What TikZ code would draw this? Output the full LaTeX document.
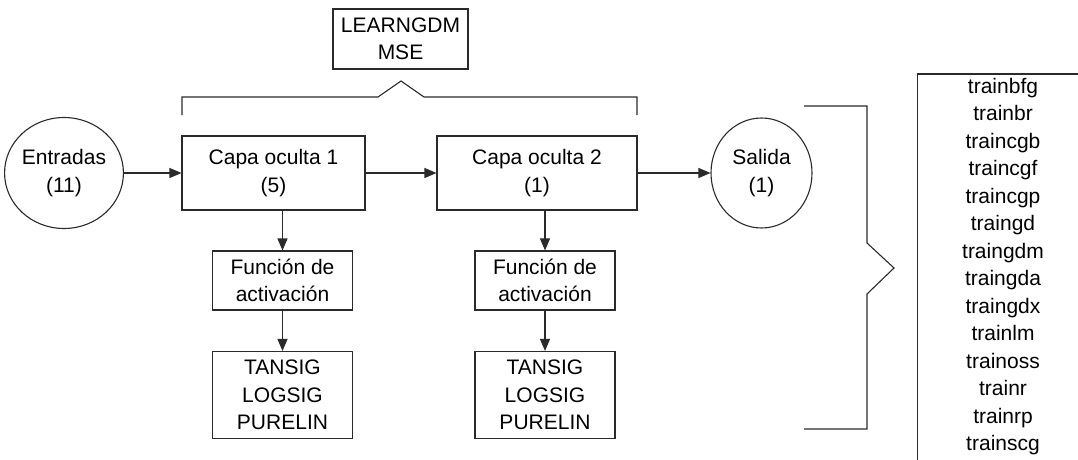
\documentclass[tikz,border=0pt]{standalone}
\usepackage{fontspec}
\setmainfont{Liberation Sans}
\usetikzlibrary{positioning,arrows.meta,calc,shapes.geometric}
\definecolor{lineInk}{HTML}{2A2A2A}

\begin{document}
\begin{tikzpicture}[x=1pt, y=1pt, >={Triangle[length=12pt, width=10pt]},
      font=\fontsize{21}{27.5}\selectfont,
      line/.style={draw=lineInk, line width=1.1pt},
      box/.style={line, rectangle, align=center, inner sep=2pt},
      layer/.style={box, minimum height=74pt},
      act/.style={box, minimum width=140pt},
      unit/.style={line, ellipse, minimum width=102pt, minimum height=111pt, inner sep=0pt, align=center},
      listtext/.style={align=center, inner sep=0pt, minimum width=170pt, anchor=north}]
    \clip (0,0) rectangle (1078,-460);
    \node[unit] (ent) at (64,-173) {Entradas\\(11)};
    \node[layer, minimum width=183pt] (cap1) at (273.5,-173) {Capa oculta 1\\(5)};
    \node[layer, minimum width=200pt] (cap2) at (537,-173) {Capa oculta 2\\(1)};
    \node[unit, minimum width=101pt, minimum height=110pt] (sal) at (761.5,-173) {Salida\\(1)};
    \node[box, minimum width=135pt, minimum height=60pt] (lrn) at (400.5,-39) {LEARNGDM\\MSE};
    \node[act, minimum height=59pt] (fa1) at (282.5,-280.5) {Función de\\activación};
    \node[act, minimum height=59pt] (fa2) at (545,-280.5) {Función de\\activación};
    \node[act, minimum height=87pt] (ts1) at (282.5,-395) {TANSIG\\LOGSIG\\PURELIN};
    \node[act, minimum height=87pt] (ts2) at (545,-395) {TANSIG\\LOGSIG\\PURELIN};
    \node[listtext] (lst) at (1003,-78) {trainbfg\\trainbr\\traincgb\\traincgf\\traincgp\\traingd\\traingdm\\traingda\\traingdx\\trainlm\\trainoss\\trainr\\trainrp\\trainscg};
    % main row
    \draw[line, ->] (ent) -- (cap1);
    \draw[line, ->] (cap1) -- (cap2);
    \draw[line, ->] (cap2) -- (sal);
    \foreach \c in {1,2} {
      \draw[line, ->] (cap\c.south -| fa\c.north) -- (fa\c);
      \draw[line, ->] (fa\c) -- (ts\c);
    }
    % brackets
    \draw[line] (182,-115) -- (182,-97) -- (378,-97) -- (401,-81) -- (424,-97) -- (637,-97) -- (637,-115);
    \draw[line] (804,-106) -- (867,-106) -- (867,-243) -- (894,-268) -- (867,-294) -- (867,-429) -- (804,-429);
    \draw[line] ($(lst.south west)+(0,-40)$) |- ($(lst.north east)+(20,4)$);
  \end{tikzpicture}
\end{document}
